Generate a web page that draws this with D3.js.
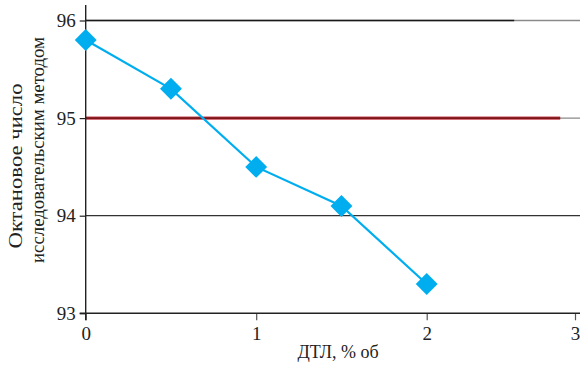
<!DOCTYPE html>
<html><head><meta charset="utf-8">
<script src="https://cdn.jsdelivr.net/npm/d3@7"></script>
<style>body{margin:0;background:#fff}svg{display:block}text{font-family:"Liberation Serif","DejaVu Serif",serif;fill:#222}</style>
</head><body><svg id="c" width="580" height="366"></svg>
<script>
const xValues = [0, 0.5, 1, 1.5, 2];
const octane = [95.8, 95.3, 94.5, 94.1, 93.3];
const xTicks = [0, 1, 2, 3];
const yTicks = [93, 94, 95, 96];
const xTitle = "ДТЛ, % об";
const yTitle = ["Октановое число", "исследовательским методом"];

const svg = d3.select("#c");
const x = d3.scaleLinear().domain([0, 2, 3]).range([85.7, 426.7, 575]);
const y = d3.scaleLinear().domain([93, 96]).range([313.3, 20.5]);
const right = 580;

// gridlines (grey base)
[94, 95, 96].forEach(v => {
  svg.append("line").attr("x1", x(0)).attr("x2", right).attr("y1", y(v)).attr("y2", y(v))
    .attr("stroke", v === 94 ? "#333" : "#8a8a8a").attr("stroke-width", v === 94 ? 1.2 : 1.4);
});
// black 96 line segment
svg.append("line").attr("x1", x(0)).attr("x2", x(2.59)).attr("y1", y(96)).attr("y2", y(96))
  .attr("stroke", "#1a1a1a").attr("stroke-width", 1.6);
// red 95 line
svg.append("line").attr("x1", x(0)).attr("x2", x(2.9)).attr("y1", y(95)).attr("y2", y(95))
  .attr("stroke", "#c8424f").attr("stroke-width", 3.4);
svg.append("line").attr("x1", x(0)).attr("x2", x(2.9)).attr("y1", y(95)).attr("y2", y(95))
  .attr("stroke", "#7a1518").attr("stroke-width", 1.6);

// axes
const gx = svg.append("g").attr("transform", `translate(0,${y(93)})`)
  .call(d3.axisBottom(x).tickValues(xTicks).tickFormat(d3.format("d")).tickSize(7).tickSizeOuter(0).tickPadding(6));
gx.select(".domain").remove();
svg.append("line").attr("x1", x(0) - 6).attr("x2", right).attr("y1", y(93)).attr("y2", y(93))
  .attr("stroke", "#222").attr("stroke-width", 1.4);
gx.selectAll(".tick line").attr("stroke", "#555").attr("stroke-width", 1.2);
gx.selectAll(".tick text").attr("font-size", 19).attr("font-family", "Liberation Serif").attr("fill", "#222");

const gy = svg.append("g").attr("transform", `translate(${x(0)},0)`)
  .call(d3.axisLeft(y).tickValues(yTicks).tickFormat(d3.format("d")).tickSize(6).tickSizeOuter(0).tickPadding(4));
gy.select(".domain").remove();
svg.append("line").attr("x1", x(0)).attr("x2", x(0)).attr("y1", 5).attr("y2", y(93) + 7)
  .attr("stroke", "#222").attr("stroke-width", 1.4);
gy.selectAll(".tick line").attr("stroke", "#222").attr("stroke-width", 1.2);
gy.selectAll(".tick text").attr("font-size", 19).attr("font-family", "Liberation Serif").attr("fill", "#222");

// titles
svg.append("text").attr("x", 338).attr("y", 358).attr("text-anchor", "middle")
  .attr("font-size", 18).text(xTitle);
const titlePos = [[22, 166, 165], [44, 150, 226]];
yTitle.forEach((t, i) => {
  svg.append("text").attr("transform", `translate(${titlePos[i][0]},${titlePos[i][1]}) rotate(-90)`)
    .attr("text-anchor", "middle").attr("font-size", 19)
    .attr("textLength", titlePos[i][2]).attr("lengthAdjust", "spacingAndGlyphs").text(t);
});

// series
const pts = xValues.map((v, i) => [x(v), y(octane[i])]);
svg.append("path").attr("d", d3.line()(pts)).attr("fill", "none")
  .attr("stroke", "#00aeef").attr("stroke-width", 2.2);
svg.selectAll(".m").data(pts).join("path")
  .attr("d", d3.symbol(d3.symbolSquare, 240)())
  .attr("transform", d => `translate(${d[0]},${d[1]}) rotate(45)`)
  .attr("fill", "#00aeef");
</script></body></html>
